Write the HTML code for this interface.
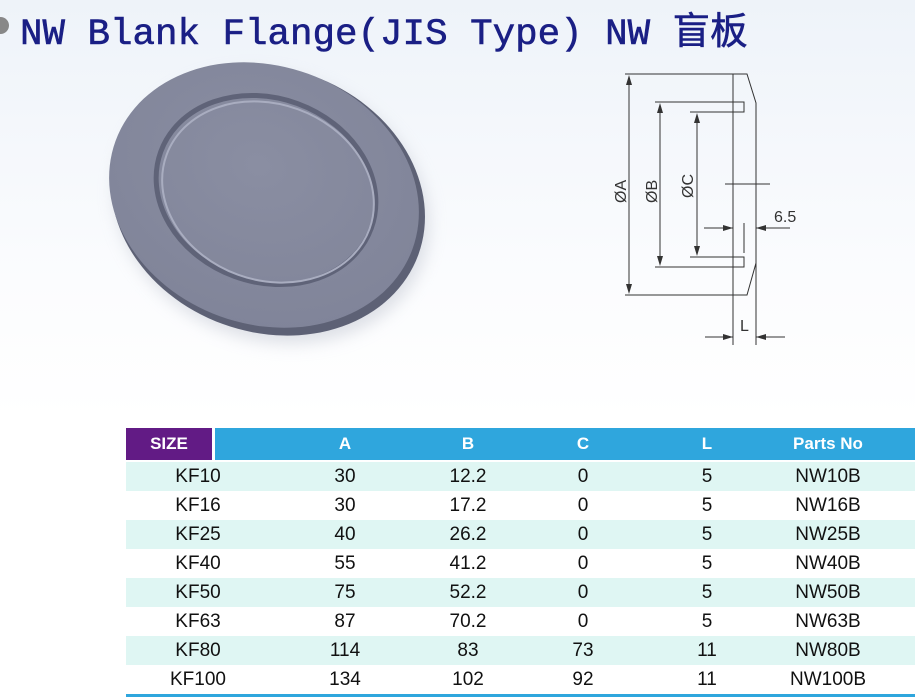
<!DOCTYPE html>
<html><head><meta charset="utf-8"><style>
body{margin:0;width:915px;height:699px;overflow:hidden;background:linear-gradient(#eef3f9,#fbfcfe 40%,#fff 60%);font-family:"Liberation Sans",sans-serif;position:relative}
.title{position:absolute;left:20px;top:0px;font-family:"Liberation Mono","Noto Sans CJK SC",monospace;font-size:37.5px;color:#1a1f85;white-space:nowrap;-webkit-text-stroke:0.6px #1a1f85}
.bul{position:absolute;left:0;top:17px;width:9px;height:17px;background:#888;border-radius:0 9px 9px 0}
.row{position:absolute;left:126px;width:789px;height:29px}
.row.c{background:#dff6f3}
.row span{position:absolute;top:0;line-height:29px;font-size:19px;color:#111;transform:translateX(-50%);white-space:nowrap}
.hd{position:absolute;top:428px;height:32px;line-height:32px;color:#fff;font-weight:bold;font-size:17px;text-align:center}
</style></head><body>
<div class="bul"></div>
<div class="title">NW Blank Flange(JIS Type) NW 盲板</div>
<svg width="915" height="420" style="position:absolute;left:0;top:0">
<defs>
<radialGradient id="g" cx="0.45" cy="0.4" r="0.7"><stop offset="0" stop-color="#8a8ea2"/><stop offset="1" stop-color="#7f8398"/></radialGradient>
<filter id="sh"><feGaussianBlur stdDeviation="8"/></filter>
</defs>
<ellipse cx="272" cy="208" rx="160" ry="132" transform="rotate(20 272 208)" fill="#c8ccd6" filter="url(#sh)" opacity="0.6"/>
<ellipse cx="268" cy="200" rx="160" ry="132" transform="rotate(20 268 200)" fill="#5d6175"/>
<ellipse cx="264" cy="195" rx="158" ry="129" transform="rotate(20 264 195)" fill="url(#g)"/>
<ellipse cx="266" cy="190" rx="112" ry="92" transform="rotate(20 266 190)" fill="none" stroke="#5f6378" stroke-width="5"/>
<ellipse cx="268" cy="192" rx="108" ry="88" transform="rotate(20 268 192)" fill="none" stroke="#a9adc0" stroke-width="2"/>
<g stroke="#333" stroke-width="1" fill="none">
<path d="M625 74H747L756 103V263L747 295H625"/>
<path d="M733 74V345M756 263V345"/>
<path d="M655 102H744V112H690M690 257H744V267H655"/>
<path d="M629 80V289M660 108V261M697 118V251"/>
<path d="M725 184H770M744 223V253M704 228H733M756 228H790M705 337H733M756 337H785"/>
</g>
<g fill="#333">
<path d="M629 75l-3 10h6zM629 294l-3-10h6zM660 103l-3 10h6zM660 266l-3-10h6zM697 113l-3 10h6zM697 256l-3-10h6z"/>
<path d="M733 228l-10-3v6zM756 228l10-3v6zM733 337l-10-3v6zM756 337l10-3v6z"/>
</g>
<g font-size="16" fill="#333">
<text transform="translate(626 203) rotate(-90)">ØA</text>
<text transform="translate(657 203) rotate(-90)">ØB</text>
<text transform="translate(693 198) rotate(-90)">ØC</text>
<text x="774" y="222">6.5</text>
<text x="740" y="331">L</text>
</g>
</svg>
<div class="hd" style="left:126px;width:86px;background:#621b85">SIZE</div>
<div class="hd" style="left:215px;width:700px;background:#2fa6dd"></div>
<div class="hd" style="left:315px;width:60px">A</div>
<div class="hd" style="left:438px;width:60px">B</div>
<div class="hd" style="left:553px;width:60px">C</div>
<div class="hd" style="left:677px;width:60px">L</div>
<div class="hd" style="left:778px;width:100px">Parts No</div>

<div class="row c" style="top:462px"><span style="left:72px">KF10</span><span style="left:219px">30</span><span style="left:342px">12.2</span><span style="left:457px">0</span><span style="left:581px">5</span><span style="left:702px">NW10B</span></div>
<div class="row" style="top:491px"><span style="left:72px">KF16</span><span style="left:219px">30</span><span style="left:342px">17.2</span><span style="left:457px">0</span><span style="left:581px">5</span><span style="left:702px">NW16B</span></div>
<div class="row c" style="top:520px"><span style="left:72px">KF25</span><span style="left:219px">40</span><span style="left:342px">26.2</span><span style="left:457px">0</span><span style="left:581px">5</span><span style="left:702px">NW25B</span></div>
<div class="row" style="top:549px"><span style="left:72px">KF40</span><span style="left:219px">55</span><span style="left:342px">41.2</span><span style="left:457px">0</span><span style="left:581px">5</span><span style="left:702px">NW40B</span></div>
<div class="row c" style="top:578px"><span style="left:72px">KF50</span><span style="left:219px">75</span><span style="left:342px">52.2</span><span style="left:457px">0</span><span style="left:581px">5</span><span style="left:702px">NW50B</span></div>
<div class="row" style="top:607px"><span style="left:72px">KF63</span><span style="left:219px">87</span><span style="left:342px">70.2</span><span style="left:457px">0</span><span style="left:581px">5</span><span style="left:702px">NW63B</span></div>
<div class="row c" style="top:636px"><span style="left:72px">KF80</span><span style="left:219px">114</span><span style="left:342px">83</span><span style="left:457px">73</span><span style="left:581px">11</span><span style="left:702px">NW80B</span></div>
<div class="row" style="top:665px"><span style="left:72px">KF100</span><span style="left:219px">134</span><span style="left:342px">102</span><span style="left:457px">92</span><span style="left:581px">11</span><span style="left:702px">NW100B</span></div>
<div style="position:absolute;left:126px;top:694px;width:789px;height:3px;background:#2fa6dd"></div>
</body></html>
